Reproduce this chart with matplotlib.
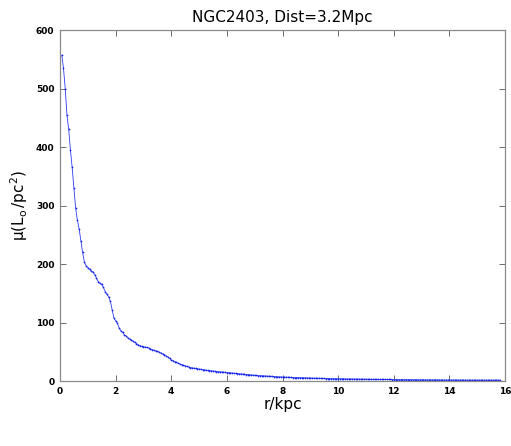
import numpy as np
import matplotlib
matplotlib.use("Agg")
import matplotlib.pyplot as plt

title = "NGC2403, Dist=3.2Mpc"
x_label = "r/kpc"
y_label = r"$\mathregular{\mu(L_{o}\,/pc^{2})}$"
x_ticks = [0, 2, 4, 6, 8, 10, 12, 14, 16]
y_ticks = [0, 100, 200, 300, 400, 500, 600]

# radial sampling (kpc): uniform grid
r_first = 0.0625
r_step = 0.0625

# surface brightness profile mu (L_o/pc^2)
mu_inner = [557, 535, 500, 455, 430, 395, 365, 330, 295, 275, 260, 240, 220, 204, 197, 194,
            191, 188, 186, 182, 176, 170, 167, 165, 160, 153, 148, 144, 136, 122, 108, 103]
mu_mid = [99, 91, 86, 83, 79, 77, 74, 72, 70, 68, 66, 64, 62, 60.5, 59.5, 58.5,
          58, 57.5, 56.5, 55, 53.5, 52.5, 51.5, 50.5, 49.5, 48, 46.5, 45, 43, 41, 39, 36,
          35, 33, 32, 30.5, 29, 28, 27, 26, 25, 24, 23, 22.5, 22, 21.5, 21, 20.5,
          20, 19.5, 19, 18.5, 18, 17.8, 17.5, 17, 16.6, 16.2, 16, 15.7, 15.4, 15.1, 14.8, 14.4]
mu_outer = [14.1, 13.8, 13.5, 13.2, 12.9, 12.6, 12.3, 12.0, 11.7, 11.4, 11.1, 10.8, 10.5, 10.3, 10.0, 9.8,
            9.6, 9.4, 9.2, 9.0, 8.8, 8.6, 8.4, 8.2, 8.0, 7.8, 7.6, 7.4, 7.3, 7.1, 7.0, 6.8,
            6.7, 6.5, 6.4, 6.3, 6.1, 6.0, 5.9, 5.8, 5.7, 5.6, 5.5, 5.4, 5.3, 5.2, 5.1, 5.0,
            4.9, 4.8, 4.8, 4.7, 4.6, 4.5, 4.5, 4.4, 4.3, 4.3, 4.2, 4.1, 4.1, 4.0, 3.9, 3.9,
            3.8, 3.8, 3.7, 3.7, 3.6, 3.6, 3.5, 3.5, 3.4, 3.4, 3.3, 3.3, 3.2, 3.2, 3.1, 3.1,
            3.0, 3.0, 2.9, 2.9, 2.9, 2.8, 2.8, 2.8, 2.7, 2.7, 2.7, 2.6, 2.6, 2.6, 2.5, 2.5,
            2.5, 2.4, 2.4, 2.4, 2.4, 2.3, 2.3, 2.3, 2.3, 2.2, 2.2, 2.2, 2.2, 2.1, 2.1, 2.1,
            2.1, 2.0, 2.0, 2.0, 2.0, 2.0, 1.9, 1.9, 1.9, 1.9, 1.9, 1.8, 1.8, 1.8, 1.8, 1.8,
            1.7, 1.7, 1.7, 1.7, 1.7, 1.7, 1.7, 1.7, 1.6, 1.6, 1.6, 1.6, 1.6, 1.6, 1.6, 1.6,
            1.6, 1.5, 1.5, 1.5, 1.5, 1.5, 1.5, 1.5, 1.5, 1.5, 1.5, 1.5, 1.5]

mu = np.array(mu_inner + mu_mid + mu_outer, dtype=float)
r = r_first + r_step * np.arange(len(mu))

fig = plt.figure(figsize=(5.11, 4.46), dpi=100)
ax = fig.add_axes([0.1174, 0.1457, 0.8709, 0.787])

ax.plot(r, mu, '-', color='#2a3cf0', linewidth=0.6, marker='.', markersize=2.5,
        markeredgewidth=0, markerfacecolor='#1020e8')

ax.set_xlim(0, 16)
ax.set_ylim(0, 600)
ax.set_xticks(x_ticks)
ax.set_yticks(y_ticks)
ax.tick_params(direction='in', top=True, right=True, length=4, width=0.6,
               labelsize=6.5, color='#555555', pad=4)
for lab in ax.get_xticklabels() + ax.get_yticklabels():
    lab.set_fontweight('bold')
for s in ax.spines.values():
    s.set_color('#8a8a8a')
    s.set_linewidth(0.9)

ax.set_title(title, fontsize=11, pad=6)
ax.set_xlabel(x_label, fontsize=11, labelpad=1)
ax.set_ylabel(y_label, fontsize=11, labelpad=4)

fig.savefig("out.png", dpi=100, facecolor='white')
